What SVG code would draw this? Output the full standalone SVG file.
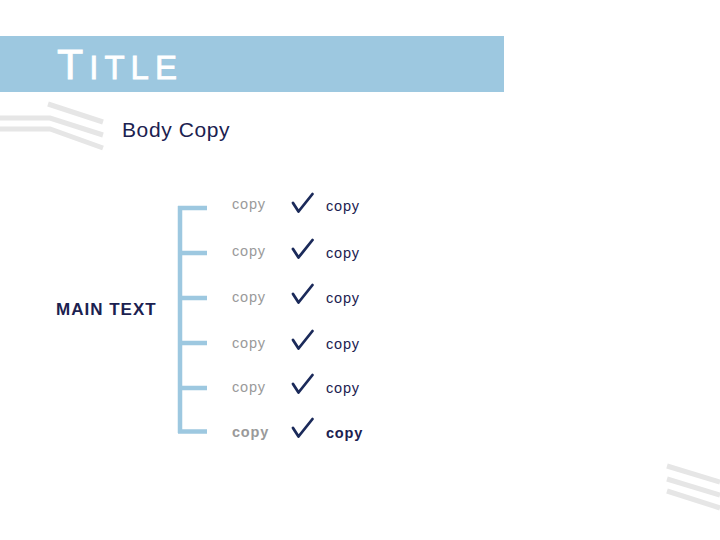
<svg xmlns="http://www.w3.org/2000/svg" width="720" height="540" viewBox="0 0 720 540">
<style>
.stripe{fill:none;stroke:#e6e6e6;stroke-width:5;stroke-linecap:butt}
.br{fill:none;stroke:#9dc8e0;stroke-width:4.5;stroke-linecap:butt}
.gray{font-family:"Liberation Sans",Arial,sans-serif;font-size:14.5px;fill:#9a9a9a;letter-spacing:0.8px}
.navy{font-family:"Liberation Sans",Arial,sans-serif;font-size:14.5px;fill:#1b2150;letter-spacing:0.8px}
.chk{fill:none;stroke:#1b2a5a;stroke-width:2.8;stroke-linecap:round;stroke-linejoin:round}
</style>
<rect width="720" height="540" fill="#ffffff"/>
<g id="decor">
<path class="stripe" d="M48 104 L103 122"/>
<path class="stripe" d="M0 118 L50 118 L103 135"/>
<path class="stripe" d="M0 129 L50 129 L103 148"/>
<path class="stripe" d="M667 466 L720 482"/>
<path class="stripe" d="M667 479 L720 495"/>
<path class="stripe" d="M667 491 L720 508"/>
</g>
<g id="title">
<rect x="0" y="36" width="504" height="56" fill="#9dc8e0"/>
<text x="57" y="79" font-family="'Liberation Sans',Arial,sans-serif" fill="#ffffff" stroke="#ffffff" stroke-width="0.8" letter-spacing="6"><tspan font-size="43">T</tspan><tspan font-size="33">ITLE</tspan></text>
</g>
<g id="body">
<text x="122" y="137" font-family="'Liberation Sans',Arial,sans-serif" font-size="21" fill="#1b2150" letter-spacing="0.6">Body Copy</text>
</g>
<g id="main">
<text x="56" y="315" font-family="'Liberation Sans',Arial,sans-serif" font-size="17" font-weight="bold" fill="#1b2150" letter-spacing="1">MAIN TEXT</text>
</g>
<g id="connectors">
<path class="br" d="M180 206 L180 433"/>
<path class="br" d="M178 208 L207 208 M180 253 L207 253 M180 298 L207 298 M180 343 L207 343 M180 388 L207 388 M178 431.5 L207 431.5"/>
</g>
<g id="row1"><text class="gray" x="232" y="209">copy</text><path class="chk" d="M293 203 L298.5 211.5 L312.5 194"/><text class="navy" x="326" y="211">copy</text></g>
<g id="row2"><text class="gray" x="232" y="256">copy</text><path class="chk" d="M293 249 L298.5 257.5 L312.5 240"/><text class="navy" x="326" y="258">copy</text></g>
<g id="row3"><text class="gray" x="232" y="302">copy</text><path class="chk" d="M293 294 L298.5 302.5 L312.5 285"/><text class="navy" x="326" y="303">copy</text></g>
<g id="row4"><text class="gray" x="232" y="348">copy</text><path class="chk" d="M293 340 L298.5 348.5 L312.5 331"/><text class="navy" x="326" y="349">copy</text></g>
<g id="row5"><text class="gray" x="232" y="392">copy</text><path class="chk" d="M293 384 L298.5 392.5 L312.5 375"/><text class="navy" x="326" y="393">copy</text></g>
<g id="row6"><text class="gray" x="232" y="437" font-weight="bold">copy</text><path class="chk" d="M293 428 L298.5 436.5 L312.5 419"/><text class="navy" x="326" y="438" font-weight="bold">copy</text></g>
</svg>
